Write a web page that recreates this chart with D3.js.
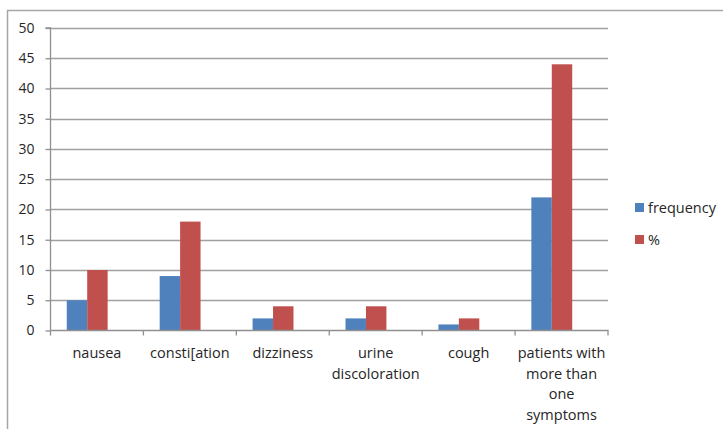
<!DOCTYPE html>
<html>
<head>
<meta charset="utf-8">
<script src="https://cdn.jsdelivr.net/npm/d3@7/dist/d3.min.js"></script>
<style>
  html, body { margin: 0; padding: 0; background: #fff; }
  svg { display: block; }
  text { font-family: "Open Sans", sans-serif; fill: #262626; }
</style>
</head>
<body>
<svg id="chart" width="723" height="429"></svg>
<script>
// Side effects reported, by symptom
const categories = ["nausea", "consti[ation", "dizziness", "urine discoloration", "cough", "patients with more than one symptoms"];
const labelLines = [["nausea"], ["consti[ation"], ["dizziness"], ["urine", "discoloration"], ["cough"], ["patients with", "more than", "one", "symptoms"]];
const frequency = [5, 9, 2, 2, 1, 22];
const percent = [10, 18, 4, 4, 2, 44];
const seriesNames = ["frequency", "%"];
const yTicks = [0, 5, 10, 15, 20, 25, 30, 35, 40, 45, 50];

const colors = ["#4F81BD", "#C0504D"];
const font = "'Open Sans', sans-serif";
const svg = d3.select("#chart");

// chart frame (top and left edges)
svg.append("path")
  .attr("d", "M7.5,429 V10.5 H723")
  .attr("fill", "none")
  .attr("stroke", "#a6a6a6")
  .attr("stroke-width", 1.5);

const plot = { left: 50.5, right: 608, top: 28, bottom: 330.5 };

const x = d3.scaleBand().domain(categories).range([plot.left, plot.right]).paddingInner(0).paddingOuter(0);
const y = d3.scaleLinear().domain([0, 50]).range([plot.bottom, plot.top]);

// gridlines
svg.append("g").selectAll("line").data(yTicks.filter(d => d > 0)).join("line")
  .attr("x1", plot.left).attr("x2", plot.right)
  .attr("y1", d => Math.round(y(d)) + 0.5).attr("y2", d => Math.round(y(d)) + 0.5)
  .attr("stroke", "#a0a0a0").attr("stroke-width", 1.3);

// bars
const bw = x.bandwidth() * 0.22;
const offset = x.bandwidth() * 0.175;
const series = [frequency, percent];
series.forEach((vals, si) => {
  svg.append("g").selectAll("rect").data(categories).join("rect")
    .attr("x", (c) => x(c) + offset + si * bw)
    .attr("y", (c, i) => y(vals[i]))
    .attr("width", bw)
    .attr("height", (c, i) => y(0) - y(vals[i]))
    .attr("fill", colors[si]);
});

// y axis
const yAxis = d3.axisLeft(y).tickValues(yTicks).tickSize(5).tickPadding(11).tickFormat(d3.format("d"));
const gy = svg.append("g").attr("transform", `translate(${plot.left},0)`).call(yAxis);
gy.select(".domain").attr("stroke", "#909090").attr("stroke-width", 1.3).attr("d", `M-5,${plot.top}H0V${plot.bottom}`);
gy.selectAll(".tick line").attr("stroke", "#909090").attr("stroke-width", 1.3);
gy.selectAll(".tick text").attr("font-size", 14).attr("fill", "#262626").style("font-family", font);

// x axis
const xAxis = d3.axisBottom(x).tickSize(0).tickFormat("");
const gx = svg.append("g").attr("transform", `translate(0,${plot.bottom})`).call(xAxis);
gx.select(".domain").attr("stroke", "#909090").attr("stroke-width", 1.3).attr("d", `M${plot.left},0H${plot.right}V5`);
// category separators
gx.append("g").selectAll("line").data(categories).join("line")
  .attr("x1", c => x(c)).attr("x2", c => x(c))
  .attr("y1", 0).attr("y2", 5)
  .attr("stroke", "#909090").attr("stroke-width", 1.3);

// category labels
const lab = svg.append("g");
categories.forEach((c, i) => {
  const t = lab.append("text")
    .attr("x", x(c) + x.bandwidth() / 2)
    .attr("y", 358)
    .attr("text-anchor", "middle")
    .attr("font-size", 14.5);
  labelLines[i].forEach((line, li) => {
    t.append("tspan").attr("x", x(c) + x.bandwidth() / 2).attr("dy", li === 0 ? 0 : 20.5).text(line);
  });
});

// legend
const legend = svg.append("g");
seriesNames.forEach((name, i) => {
  const ly = 203 + i * 32;
  legend.append("rect").attr("x", 635).attr("y", ly).attr("width", 9).attr("height", 9).attr("fill", colors[i]);
  legend.append("text").attr("x", 648).attr("y", ly + 10).attr("font-size", 14.5).text(name);
});
</script>
</body>
</html>
